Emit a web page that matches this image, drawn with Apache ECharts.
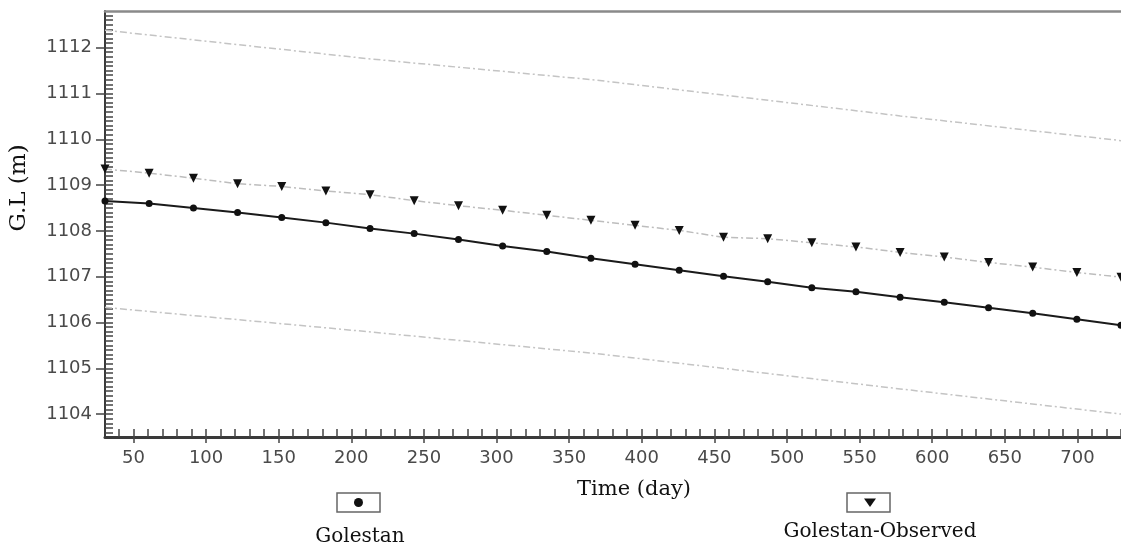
<!DOCTYPE html>
<html>
<head>
<meta charset="utf-8">
<script src="https://cdn.jsdelivr.net/npm/echarts@6/dist/echarts.min.js"></script>
<style>
  html, body { margin: 0; padding: 0; background: #fff; }
  #chart { width: 1121px; height: 549px; }
</style>
</head>
<body>
<div id="chart"></div>
<script>
// Time steps (days) of the monthly simulation
const days = [30.4, 60.8, 91.3, 121.7, 152.1, 182.5, 212.9, 243.3, 273.8, 304.2, 334.6, 365.0,
              395.4, 425.8, 456.3, 486.7, 517.1, 547.5, 577.9, 608.3, 638.8, 669.2, 699.6, 730.0];

// Simulated groundwater level (m)
const golestan = [1108.65, 1108.60, 1108.50, 1108.40, 1108.29, 1108.18, 1108.05, 1107.94,
                  1107.81, 1107.67, 1107.55, 1107.40, 1107.27, 1107.14, 1107.01, 1106.89,
                  1106.76, 1106.67, 1106.55, 1106.44, 1106.32, 1106.20, 1106.07, 1105.94];

// Observed groundwater level (m)
const observed = [1109.35, 1109.26, 1109.15, 1109.03, 1108.97, 1108.87, 1108.79, 1108.66,
                  1108.55, 1108.45, 1108.34, 1108.23, 1108.12, 1108.01, 1107.86, 1107.83,
                  1107.74, 1107.65, 1107.53, 1107.43, 1107.31, 1107.21, 1107.09, 1106.99];

// Upper and lower confidence limits
const upperDays = [30.4, 211, 369, 578, 730];
const upperBound = [1112.38, 1111.76, 1111.29, 1110.51, 1109.97];
const lowerDays = [30.4, 211, 369, 578, 730];
const lowerBound = [1106.33, 1105.80, 1105.32, 1104.55, 1104.00];

const seriesNames = ['Golestan', 'Golestan-Observed'];

// Axis ticks
const xTicks = [50, 100, 150, 200, 250, 300, 350, 400, 450, 500, 550, 600, 650, 700];
const yTicks = [1104, 1105, 1106, 1107, 1108, 1109, 1110, 1111, 1112];
const xMin = 30.4, xMax = 730, yMin = 1103.5, yMax = 1112.8;

// minor ticks every 10 days and every 0.1 m
const xMinor = [];
for (let v = 40; v <= 730; v += 10) xMinor.push(v);
const yMinor = [];
for (let k = Math.ceil(yMin * 10 + 1); k < yMax * 10; k++) yMinor.push(k / 10);

const pair = (xs, ys) => xs.map((x, i) => [x, ys[i]]);

const tickColor = '#444';
const labelStyle = { fontFamily: 'DejaVu Sans', fontSize: 18, color: '#4a4a4a', formatter: v => String(v) };
const serif = 'DejaVu Serif';
const dashDot = [7, 3, 2, 3];

const chart = echarts.init(document.getElementById('chart'), null, { renderer: 'canvas' });

chart.setOption({
  animation: false,
  backgroundColor: '#fff',
  grid: { left: 104, right: 0, top: 11, bottom: 112, containLabel: false },
  xAxis: [
    {
      type: 'value', min: xMin, max: xMax, position: 'bottom',
      axisLine: { show: true, lineStyle: { color: '#3a3a3a', width: 3 } },
      axisTick: { show: true, inside: true, length: 8, customValues: xMinor,
                  lineStyle: { color: tickColor, width: 1.5 } },
      axisLabel: { show: false },
      splitLine: { show: false }
    },
    {
      type: 'value', min: xMin, max: xMax, position: 'bottom',
      axisLine: { show: false },
      axisTick: { show: true, inside: false, length: 6, customValues: xTicks,
                  lineStyle: { color: tickColor, width: 1.5 } },
      axisLabel: Object.assign({ show: true, margin: 12, customValues: xTicks }, labelStyle),
      splitLine: { show: false },
      name: 'Time (day)', nameLocation: 'middle', nameGap: 42,
      nameTextStyle: { fontFamily: serif, fontSize: 21, color: '#111', padding: [0, 0, 0, 42] }
    },
    {
      type: 'value', min: xMin, max: xMax, position: 'top',
      axisLine: { show: true, lineStyle: { color: '#8a8a8a', width: 2.5 } },
      axisTick: { show: false }, axisLabel: { show: false }, splitLine: { show: false }
    }
  ],
  yAxis: [
    {
      type: 'value', min: yMin, max: yMax, position: 'left',
      axisLine: { show: true, lineStyle: { color: '#3a3a3a', width: 2 } },
      axisTick: { show: true, inside: true, length: 8, customValues: yMinor,
                  lineStyle: { color: tickColor, width: 1.5 } },
      axisLabel: { show: false },
      splitLine: { show: false }
    },
    {
      type: 'value', min: yMin, max: yMax, position: 'left',
      axisLine: { show: false },
      axisTick: { show: true, inside: false, length: 9, customValues: yTicks,
                  lineStyle: { color: tickColor, width: 1.5 } },
      axisLabel: Object.assign({ show: true, margin: 13, customValues: yTicks }, labelStyle),
      splitLine: { show: false },
      name: 'G.L (m)', nameLocation: 'middle', nameGap: 74,
      nameTextStyle: { fontFamily: serif, fontSize: 23, color: '#111', padding: [0, 0, 0, 72] }
    }
  ],
  series: [
    {
      name: 'Upper limit', type: 'line', xAxisIndex: 0, yAxisIndex: 0,
      data: pair(upperDays, upperBound), showSymbol: false, symbol: 'none',
      lineStyle: { color: '#c4c4c4', width: 1.5, type: dashDot }, z: 2
    },
    {
      name: 'Lower limit', type: 'line', xAxisIndex: 0, yAxisIndex: 0,
      data: pair(lowerDays, lowerBound), showSymbol: false, symbol: 'none',
      lineStyle: { color: '#c4c4c4', width: 1.5, type: dashDot }, z: 2
    },
    {
      name: seriesNames[1], type: 'line', xAxisIndex: 0, yAxisIndex: 0,
      data: pair(days, observed),
      symbol: 'triangle', symbolRotate: 180, symbolSize: 9,
      itemStyle: { color: '#111' },
      lineStyle: { color: '#bdbdbd', width: 1.5, type: dashDot }, z: 3
    },
    {
      name: seriesNames[0], type: 'line', xAxisIndex: 0, yAxisIndex: 0,
      data: pair(days, golestan),
      symbol: 'circle', symbolSize: 7,
      itemStyle: { color: '#111' },
      lineStyle: { color: '#1a1a1a', width: 2 }, z: 4
    }
  ],
  graphic: [
    { type: 'rect', shape: { x: 337, y: 493, width: 43, height: 19 },
      style: { fill: '#fff', stroke: '#666', lineWidth: 1.5 } },
    { type: 'circle', shape: { cx: 358.5, cy: 502.5, r: 4.5 }, style: { fill: '#111' } },
    { type: 'text', x: 360, y: 537,
      style: { text: seriesNames[0], font: '20px "DejaVu Serif"', fill: '#111',
               textAlign: 'center', textVerticalAlign: 'middle' } },
    { type: 'rect', shape: { x: 847, y: 493, width: 43, height: 19 },
      style: { fill: '#fff', stroke: '#666', lineWidth: 1.5 } },
    { type: 'polygon', shape: { points: [[864, 498.5], [876, 498.5], [870, 507]] },
      style: { fill: '#111' } },
    { type: 'text', x: 880, y: 532,
      style: { text: seriesNames[1], font: '20px "DejaVu Serif"', fill: '#111',
               textAlign: 'center', textVerticalAlign: 'middle' } }
  ]
});
</script>
</body>
</html>
